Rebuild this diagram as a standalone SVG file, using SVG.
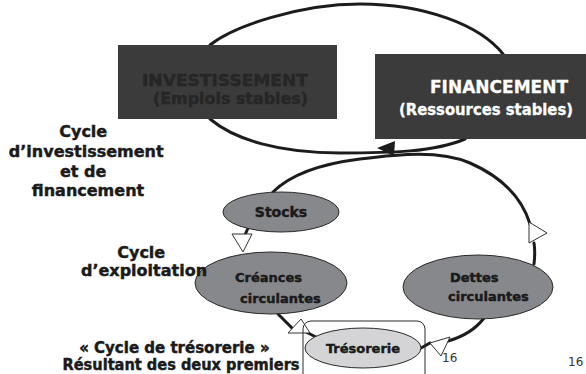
<svg xmlns="http://www.w3.org/2000/svg" width="586" height="374" viewBox="0 0 586 374">
  <style>
    .lbl { font-family: "DejaVu Sans", Verdana, sans-serif; font-weight: bold; fill: #1a1a1a; stroke: #1a1a1a; stroke-width: 0.45; }
    .dim { fill: #262626; stroke: #262626; }
    .white { fill: #ffffff; stroke: #ffffff; stroke-width: 0.3; }
    .box { fill: #3b3b3b; }
    .node { fill: #87888c; stroke: #2a2a2a; stroke-width: 1; }
    .light { fill: #d4d4d6; stroke: #2a2a2a; stroke-width: 1; }
    .flow { fill: none; stroke: #1c1c1c; stroke-width: 3; stroke-linecap: round; }
    .head { fill: #ffffff; stroke: #333333; stroke-width: 1; }
    .num { font-family: "DejaVu Sans", Verdana, sans-serif; font-size: 12px; fill: #333333; }
  </style>

  <!-- connectors -->
  <g id="connectors">
    <!-- investment / financing loop -->
    <path class="flow" d="M210,45 C234,26 300,4 360,4 C425,4 480,25 503,54"/>
    <path class="flow" d="M210,119 C235,140 280,153 340,153 C390,153 435,152 465,139"/>
    <polygon points="377,148 395,141 394,156" fill="#1c1c1c"/>
    <!-- operating loop -->
    <path class="flow" d="M273,192 C290,175 320,164 360,159 C400,154 440,150 470,163 C502,177 522,198 530,224"/>
    <path class="flow" d="M534,243 C535,250 535,256 534,264"/>
    <polygon class="head" points="529,222 529,243 547,233"/>
    <path class="flow" d="M248,228 L245,235"/>
    <polygon class="head" points="232,234 252,234 243,252"/>
    <path class="flow" d="M278,314 L292,328"/>
    <path class="flow" d="M306,332 L316,337"/>
    <polygon class="head" points="288,333 301,319 310,333"/>
    <path class="flow" d="M484,318 C475,330 462,337 448,341"/>
    <path class="flow" d="M430,343 L421,348"/>
    <polygon class="head" points="430,343 450,337 441,356"/>
  </g>

  <!-- long-term boxes -->
  <g id="investissement">
    <rect class="box" x="118" y="45" width="219" height="74"/>
    <text class="lbl dim" x="142" y="86" font-size="16" textLength="166" lengthAdjust="spacingAndGlyphs">INVESTISSEMENT</text>
    <text class="lbl dim" x="153" y="104" font-size="16" textLength="155" lengthAdjust="spacingAndGlyphs">(Emplois stables)</text>
  </g>
  <g id="financement">
    <rect class="box" x="375" y="54" width="211" height="85"/>
    <text class="lbl white" x="430" y="93" font-size="17" textLength="138" lengthAdjust="spacingAndGlyphs">FINANCEMENT</text>
    <text class="lbl white" x="399" y="115" font-size="15" textLength="174" lengthAdjust="spacingAndGlyphs">(Ressources stables)</text>
  </g>

  <!-- operating nodes -->
  <g id="stocks">
    <ellipse class="node" cx="281" cy="212" rx="58" ry="20"/>
    <text class="lbl" x="281" y="217" font-size="14" text-anchor="middle">Stocks</text>
  </g>
  <g id="creances">
    <ellipse class="node" cx="271" cy="283" rx="76" ry="31"/>
    <text class="lbl" x="235" y="282" font-size="13">Créances</text>
    <text class="lbl" x="240" y="303" font-size="13">circulantes</text>
  </g>
  <g id="dettes">
    <ellipse class="node" cx="478" cy="287" rx="75" ry="32"/>
    <text class="lbl" x="450" y="282" font-size="13">Dettes</text>
    <text class="lbl" x="448" y="301" font-size="13">circulantes</text>
  </g>
  <g id="tresorerie">
    <rect x="303" y="321" width="122" height="62" rx="8" fill="none" stroke="#2a2a2a" stroke-width="1"/>
    <ellipse class="light" cx="363" cy="348" rx="58" ry="20"/>
    <text class="lbl" x="363" y="353" font-size="13" text-anchor="middle">Trésorerie</text>
  </g>

  <!-- side captions -->
  <g id="cycle-investissement">
    <text class="lbl" font-size="16" text-anchor="middle">
      <tspan x="86" y="137">Cycle</tspan>
      <tspan x="89" y="157">d’investissement</tspan>
      <tspan x="86" y="177">et de</tspan>
      <tspan x="88" y="196">financement</tspan>
    </text>
  </g>
  <g id="cycle-exploitation">
    <text class="lbl" font-size="16" text-anchor="middle">
      <tspan x="144" y="258">Cycle</tspan>
      <tspan x="144" y="276">d’exploitation</tspan>
    </text>
  </g>
  <g id="cycle-tresorerie">
    <text class="lbl" font-size="15" text-anchor="middle">
      <tspan x="177" y="353">« Cycle de trésorerie »</tspan>
      <tspan x="181" y="370" textLength="237" lengthAdjust="spacingAndGlyphs">Résultant des deux premiers</tspan>
    </text>
  </g>

  <!-- page numbers -->
  <text class="num" x="442" y="362">16</text>
  <text class="num" x="568" y="366">16</text>
</svg>
